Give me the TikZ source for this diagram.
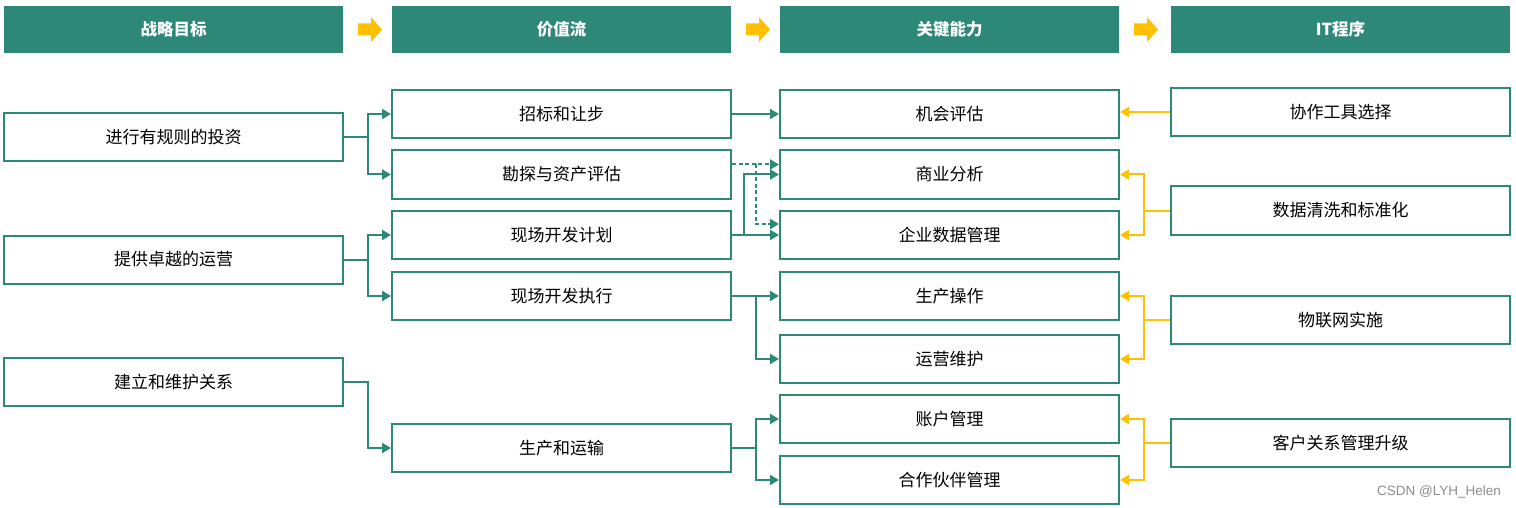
\documentclass[tikz,border=0pt]{standalone}
\usepackage{fontspec}
\setmainfont{Noto Sans CJK SC}
\newfontfamily\wmfont{Liberation Sans}
\usetikzlibrary{arrows.meta}
\definecolor{teal1}{RGB}{46,136,120}
\definecolor{gold1}{RGB}{255,192,0}
\begin{document}
\begin{tikzpicture}[x=1pt,y=-1pt,
  box/.style={draw=teal1,line width=2pt,fill=white,minimum width=339pt,minimum height=48pt,inner sep=0pt,font=\fontsize{17}{20}\selectfont},
  hdr/.style={fill=teal1,minimum width=339pt,minimum height=47pt,inner sep=0pt,text=white,font=\fontsize{16.5}{20}\selectfont\bfseries},
  conn/.style={draw=teal1,line width=2pt,-{Triangle[length=9pt,width=10pt]}},
  yconn/.style={draw=gold1,line width=2pt,-{Triangle[length=9pt,width=10pt]}},
  dashconn/.style={conn,dash pattern=on 4pt off 2.5pt},
  hdrarrow/.style={fill=gold1,draw=none}]
\useasboundingbox (0,0) rectangle (1516,508);
% headers
\node[hdr] (h1) at (173.5,29.5) {战略目标};
\node[hdr] (h2) at (561.5,29.5) {价值流};
\node[hdr] (h3) at (949.5,29.5) {关键能力};
\node[hdr] (h4) at (1340.5,29.5) {IT程序};
\foreach \x in {358,746,1134}{
  \fill[gold1] (\x,23.5) -- (\x+13,23.5) -- (\x+13,17) -- (\x+24,29.5) -- (\x+13,42) -- (\x+13,35.5) -- (\x,35.5) -- cycle;
}
% column 1
\node[box] (a1) at (173.5,137) {进行有规则的投资};
\node[box] (a2) at (173.5,259.5) {提供卓越的运营};
\node[box] (a3) at (173.5,382) {建立和维护关系};
% column 2
\node[box] (b1) at (561.5,114) {招标和让步};
\node[box] (b2) at (561.5,174.5) {勘探与资产评估};
\node[box] (b3) at (561.5,235) {现场开发计划};
\node[box] (b4) at (561.5,296) {现场开发执行};
\node[box] (b5) at (561.5,448) {生产和运输};
% column 3
\node[box] (c1) at (949.5,114) {机会评估};
\node[box] (c2) at (949.5,174.5) {商业分析};
\node[box] (c3) at (949.5,235) {企业数据管理};
\node[box] (c4) at (949.5,296) {生产操作};
\node[box] (c5) at (949.5,359) {运营维护};
\node[box] (c6) at (949.5,419) {账户管理};
\node[box] (c7) at (949.5,480) {合作伙伴管理};
% column 4
\node[box] (d1) at (1340.5,112) {协作工具选择};
\node[box] (d2) at (1340.5,210.5) {数据清洗和标准化};
\node[box] (d3) at (1340.5,320) {物联网实施};
\node[box] (d4) at (1340.5,443) {客户关系管理升级};
% col1 -> col2
\draw[conn] (a1.east) -- ++(24,0) |- (b1.west);
\draw[conn] (a1.east) -- ++(24,0) |- (b2.west);
\draw[conn] (a2.east) -- ++(24,0) |- (b3.west);
\draw[conn] (a2.east) -- ++(24,0) |- (b4.west);
\draw[conn] (a3.east) -- ++(24,0) |- (b5.west);
% col2 -> col3
\draw[conn] (b1.east) -- (c1.west);
\draw[dashconn] ([yshift=10pt]b2.east) -- ([yshift=10pt]c2.west);
\draw[dashconn] ([xshift=24pt,yshift=10pt]b2.east) |- ([yshift=11pt]c3.west);
\draw[conn] (b3.east) -- (c3.west);
\draw[conn] ([xshift=12pt]b3.east) |- (c2.west);
\draw[conn] (b4.east) -- (c4.west);
\draw[conn] ([xshift=24pt]b4.east) |- (c5.west);
\draw[conn] (b5.east) -- ++(24,0) |- (c6.west);
\draw[conn] (b5.east) -- ++(24,0) |- (c7.west);
% col4 -> col3
\draw[yconn] (d1.west) -- (d1.west -| c1.east);
\draw[yconn] (d2.west) -- ++(-26,0) |- (c2.east);
\draw[yconn] (d2.west) -- ++(-26,0) |- (c3.east);
\draw[yconn] (d3.west) -- ++(-26,0) |- (c4.east);
\draw[yconn] (d3.west) -- ++(-26,0) |- (c5.east);
\draw[yconn] (d4.west) -- ++(-26,0) |- (c6.east);
\draw[yconn] (d4.west) -- ++(-26,0) |- (c7.east);
% watermark
\node[text=black!45,font=\wmfont\fontsize{13.5}{15}\selectfont,anchor=east,inner sep=0pt] (wm) at (1501,492) {CSDN @LYH\_Helen};
\end{tikzpicture}
\end{document}
